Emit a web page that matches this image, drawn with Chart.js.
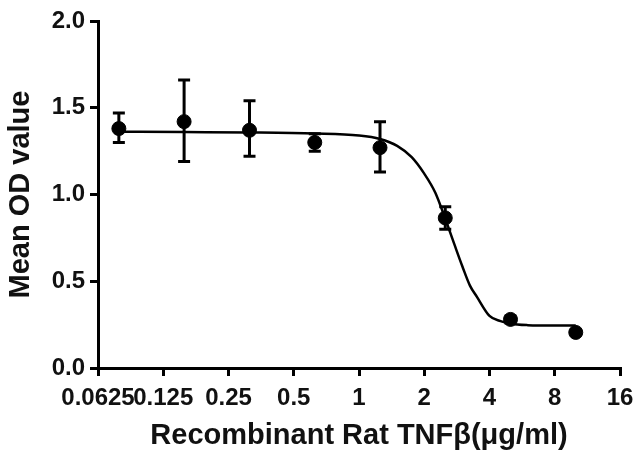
<!DOCTYPE html>
<html>
<head>
<meta charset="utf-8">
<script src="https://cdn.jsdelivr.net/npm/chart.js@4/dist/chart.umd.min.js"></script>
<style>
  html, body { margin: 0; padding: 0; background: #fff; }
  #wrap { width: 636px; height: 453px; }
</style>
</head>
<body>
<div id="wrap"><canvas id="odChart"></canvas></div>
<script>
// concentrations (µg/ml) and measured means with error bar ends
const doses = [0.078, 0.156, 0.3125, 0.625, 1.25, 2.5, 5, 10];
const meanOD = [1.38, 1.42, 1.37, 1.30, 1.27, 0.865, 0.28, 0.205];
const errLow = [1.30, 1.19, 1.22, 1.25, 1.13, 0.80, 0.26, 0.19];
const errHigh = [1.47, 1.66, 1.54, 1.35, 1.42, 0.93, 0.30, 0.22];

// fitted curve
const curveX = [0.078, 0.156, 0.3125, 0.625, 1.0, 1.25, 1.5, 1.75, 2.0, 2.25, 2.5, 2.75, 3.0, 3.25, 3.5, 4.0, 4.5, 5, 6, 8, 10];
const curveY = [1.362, 1.360, 1.358, 1.352, 1.34, 1.32, 1.28, 1.215, 1.12, 1.01, 0.86, 0.715, 0.585, 0.475, 0.41, 0.30, 0.27, 0.255, 0.247, 0.245, 0.245];

const xTicks = [0.0625, 0.125, 0.25, 0.5, 1, 2, 4, 8, 16];
const xTickLabels = ['0.0625', '0.125', '0.25', '0.5', '1', '2', '4', '8', '16'];
const yTicks = [0, 0.5, 1.0, 1.5, 2.0];

const tickFont = { family: 'Liberation Sans, Arial, sans-serif', size: 24, weight: 'bold' };
const titleFont = { family: 'Liberation Sans, Arial, sans-serif', size: 29, weight: 'bold' };

// error bars drawn through the chart scales
const errorBars = {
  id: 'errorBars',
  afterDatasetsDraw(chart) {
    const { ctx, scales: { x, y } } = chart;
    ctx.save();
    ctx.strokeStyle = '#000';
    ctx.lineWidth = 3;
    doses.forEach((d, i) => {
      const px = x.getPixelForValue(d);
      const top = y.getPixelForValue(errHigh[i]);
      const bot = y.getPixelForValue(errLow[i]);
      ctx.beginPath();
      ctx.moveTo(px, top);
      ctx.lineTo(px, bot);
      ctx.moveTo(px - 6, top);
      ctx.lineTo(px + 6, top);
      ctx.moveTo(px - 6, bot);
      ctx.lineTo(px + 6, bot);
      ctx.stroke();
    });
    ctx.restore();
  }
};

new Chart(document.getElementById('odChart'), {
  type: 'scatter',
  data: {
    datasets: [
      {
        label: 'fit',
        type: 'line',
        data: curveX.map((v, i) => ({ x: v, y: curveY[i] })),
        borderColor: '#000',
        borderWidth: 2.5,
        pointRadius: 0,
        cubicInterpolationMode: 'monotone',
        fill: false
      },
      {
        label: 'mean',
        data: doses.map((v, i) => ({ x: v, y: meanOD[i] })),
        backgroundColor: '#000',
        borderColor: '#000',
        pointRadius: 7,
        showLine: false
      }
    ]
  },
  options: {
    responsive: true,
    maintainAspectRatio: false,
    animation: false,
    layout: { padding: 0 },
    plugins: {
      legend: { display: false },
      tooltip: { enabled: false }
    },
    scales: {
      x: {
        type: 'logarithmic',
        min: 0.0625,
        max: 16,
        afterBuildTicks: scale => {
          scale.ticks = xTicks.map(v => ({ value: v }));
        },
        afterFit: scale => {
          scale.height = 85;
          scale.paddingLeft = 0;
          scale.paddingRight = 16;
        },
        border: { color: '#000', width: 3 },
        grid: { drawOnChartArea: false, color: '#000', lineWidth: 3, tickLength: 8 },
        ticks: {
          color: '#111',
          font: tickFont,
          padding: 8,
          maxRotation: 0,
          autoSkip: false,
          callback: (val, idx) => xTickLabels[idx]
        },
        title: {
          display: true,
          text: 'Recombinant Rat TNFβ(μg/ml)',
          color: '#111',
          font: titleFont,
          padding: { top: 0, bottom: 0 }
        }
      },
      y: {
        min: 0,
        max: 2,
        afterBuildTicks: scale => {
          scale.ticks = yTicks.map(v => ({ value: v }));
        },
        afterFit: scale => {
          scale.width = 98;
          scale.paddingTop = 21;
          scale.paddingBottom = 0;
        },
        border: { color: '#000', width: 3 },
        grid: { drawOnChartArea: false, color: '#000', lineWidth: 3, tickLength: 8 },
        ticks: {
          color: '#111',
          font: tickFont,
          padding: 5,
          callback: v => v.toFixed(1)
        },
        title: {
          display: true,
          text: 'Mean OD value',
          color: '#111',
          font: titleFont,
          padding: { top: 4, bottom: 0 }
        }
      }
    }
  },
  plugins: [errorBars]
});
</script>
</body>
</html>
